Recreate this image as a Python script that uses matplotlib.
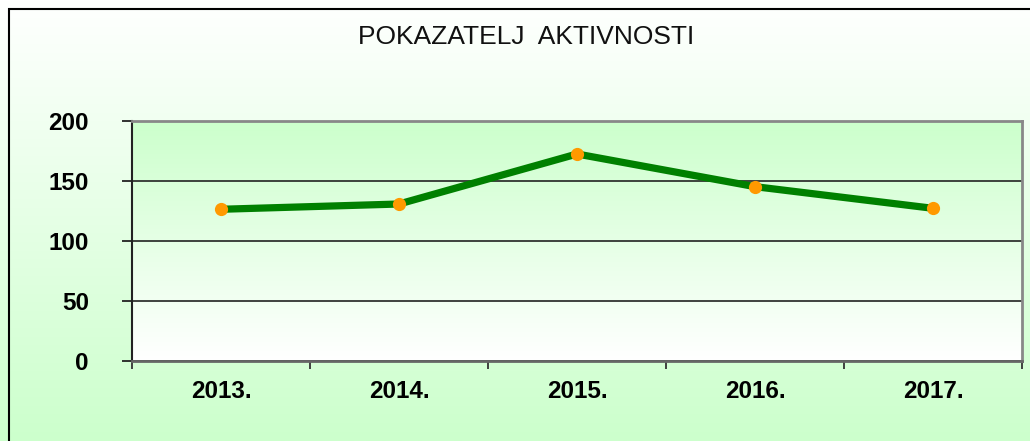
import matplotlib.pyplot as plt
import numpy as np
from matplotlib.patches import Rectangle
from matplotlib.colors import LinearSegmentedColormap

plt.rcParams['font.family'] = ['Liberation Sans', 'DejaVu Sans']

# podaci
godine = ['2013.', '2014.', '2015.', '2016.', '2017.']
vrijednosti = [126.5, 130.9, 172.7, 145.4, 127.3]
y_ticks = [0, 50, 100, 150, 200]

fig = plt.figure(figsize=(10.3, 4.41), dpi=100)

# pozadina slike: bijelo gore, svijetlo zeleno dolje
cmap_fig = LinearSegmentedColormap.from_list('fig_bg', ['#ffffff', '#ccffcc'])
bg = fig.add_axes([0, 0, 1, 1], zorder=-2)
bg.imshow(np.linspace(0, 1, 256).reshape(-1, 1), cmap=cmap_fig, aspect='auto',
          extent=[0, 1, 0, 1], origin='upper')
bg.set_axis_off()

# okvir
fig.add_artist(Rectangle((8.5 / 1030, -0.1), 1.2, (441 - 8.5) / 441 + 0.1,
                         transform=fig.transFigure, fill=False,
                         edgecolor='black', linewidth=1.5))

ax = fig.add_axes([132 / 1030, 1 - 360.7 / 441, 890 / 1030, 239.4 / 441])
x = np.arange(len(godine))

# pozadina grafa: zeleno gore, bijelo dolje
cmap_ax = LinearSegmentedColormap.from_list('ax_bg', ['#ccffcc', '#ffffff'])
ax.imshow(np.linspace(0, 1, 256).reshape(-1, 1), cmap=cmap_ax, aspect='auto',
          extent=[-0.5, len(godine) - 0.5, 0, 200], origin='upper', zorder=0)

ax.plot(x, vrijednosti, color='#008000', linewidth=5.2, zorder=3,
        solid_capstyle='butt')
ax.plot(x, vrijednosti, 'o', color='#ff9900', markersize=9.5,
        markeredgewidth=0, zorder=4)

ax.set_xlim(-0.5, len(godine) - 0.5)
ax.set_ylim(0, 200)
ax.set_yticks(y_ticks)
ax.set_yticklabels([str(v) for v in y_ticks], fontsize=17.5, fontweight='bold')
ax.set_xticks(x)
ax.set_xticklabels(godine, fontsize=17.5, fontweight='bold')
ax.set_xticks(np.arange(len(godine) + 1) - 0.5, minor=True)
ax.tick_params(axis='x', which='major', length=0, pad=14)
ax.tick_params(axis='x', which='minor', length=6, width=1.3, color='#333333')
ax.tick_params(axis='y', length=7, width=1.3, color='#222222', pad=24)

ax.grid(axis='y', color='#222222', linewidth=1.2, zorder=1)
ax.set_axisbelow(False)

ax.spines['left'].set_color('#222222')
ax.spines['left'].set_linewidth(1.5)
ax.spines['bottom'].set_color('#666666')
ax.spines['bottom'].set_linewidth(2)
ax.spines['top'].set_color('#888888')
ax.spines['top'].set_linewidth(2)
ax.spines['right'].set_color('#888888')
ax.spines['right'].set_linewidth(2)
for s in ax.spines.values():
    s.set_zorder(5)

fig.text(526 / 1030, 1 - 37 / 441, 'POKAZATELJ  AKTIVNOSTI', fontsize=19,
         ha='center', va='center', color='#111111')

fig.savefig('out.png', dpi=100)
